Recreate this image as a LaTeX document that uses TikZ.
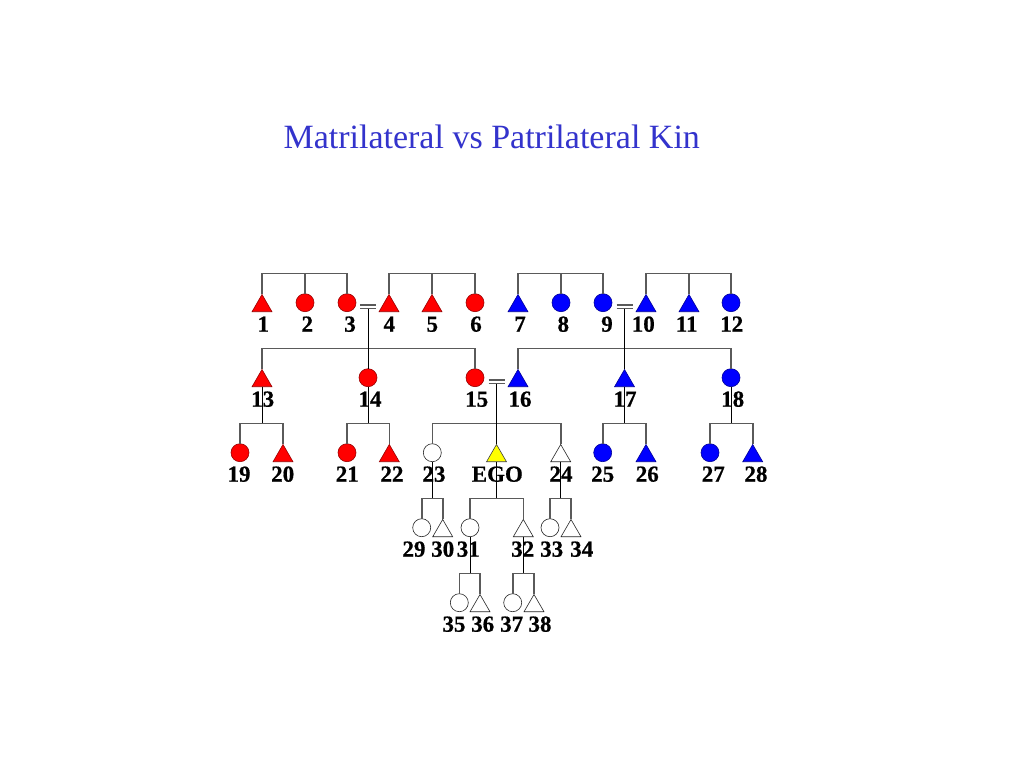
\documentclass[tikz,border=0pt]{standalone}
\usepackage{fontspec}
\setmainfont{Liberation Serif}
\newfontfamily\labfont{Liberation Serif}[BoldFeatures={FakeBold=0.6}]
\usetikzlibrary{shapes.geometric}
\definecolor{titleblue}{RGB}{51,51,204}
\definecolor{kred}{RGB}{255,0,0}
\definecolor{kblue}{RGB}{0,0,255}
\definecolor{kyellow}{RGB}{255,255,0}
\definecolor{conncol}{RGB}{90,90,90}
\tikzset{
 sym/.style={inner sep=0pt, outer sep=0pt, anchor=south, line width=0.6pt},
 fem/.style={sym, circle, minimum size=18pt},
 mal/.style={sym, regular polygon, regular polygon sides=3, minimum size=23pt},
 rd/.style={fill=kred, draw=kred!60!black},
 bl/.style={fill=kblue, draw=kblue!60!black},
 wh/.style={fill=white, draw=black!85},
 ye/.style={fill=kyellow, draw=black!75},
 conn/.style={draw=conncol, line width=1.6pt},
 desc/.style={draw=black, line width=0.9pt},
 eqline/.style={draw=conncol, line width=1.5pt},
 lab/.style={font=\labfont\bfseries\fontsize{23}{23}\selectfont, anchor=base, inner sep=0pt},
 ttl/.style={font=\fontsize{34}{34}\selectfont, text=titleblue, anchor=base, inner sep=0pt}
}
\begin{document}
\begin{tikzpicture}[x=1pt,y=-1pt]
\fill[white] (0,0) rectangle (1024,768);
\useasboundingbox (0,0) rectangle (1024,768);
\node[ttl] (title) at (491.7,148.3) {Matrilateral vs Patrilateral Kin};

% ---- row 1 (base 311.7)
\node[mal,rd] (s1) at (262,311.7) {};
\node[fem,rd] (s2) at (305,311.7) {};
\node[fem,rd] (s3) at (347,311.7) {};
\node[mal,rd] (s4) at (389,311.7) {};
\node[mal,rd] (s5) at (432,311.7) {};
\node[fem,rd] (s6) at (475,311.7) {};
\node[mal,bl] (s7) at (518,311.7) {};
\node[fem,bl] (s8) at (561,311.7) {};
\node[fem,bl] (s9) at (603,311.7) {};
\node[mal,bl] (s10) at (646,311.7) {};
\node[mal,bl] (s11) at (689,311.7) {};
\node[fem,bl] (s12) at (731,311.7) {};
% ---- row 2 (base 386.7)
\node[mal,rd] (s13) at (262,386.7) {};
\node[fem,rd] (s14) at (368,386.7) {};
\node[fem,rd] (s15) at (475,386.7) {};
\node[mal,bl] (s16) at (518,386.7) {};
\node[mal,bl] (s17) at (624.5,386.7) {};
\node[fem,bl] (s18) at (731,386.7) {};
% ---- row 3 (base 461.7)
\node[fem,rd] (s19) at (240,461.7) {};
\node[mal,rd] (s20) at (283,461.7) {};
\node[fem,rd] (s21) at (347,461.7) {};
\node[mal,rd] (s22) at (389.3,461.7) {};
\node[fem,wh] (s23) at (432.3,461.7) {};
\node[mal,ye] (ego) at (496.5,461.7) {};
\node[mal,wh] (s24) at (560.7,461.7) {};
\node[fem,bl] (s25) at (602.7,461.7) {};
\node[mal,bl] (s26) at (646,461.7) {};
\node[fem,bl] (s27) at (710,461.7) {};
\node[mal,bl] (s28) at (752.7,461.7) {};
% ---- row 4 (base 536.7)
\node[fem,wh] (s29) at (421.7,536.7) {};
\node[mal,wh] (s30) at (442.7,536.7) {};
\node[fem,wh] (s31) at (470,536.7) {};
\node[mal,wh] (s32) at (523.3,536.7) {};
\node[fem,wh] (s33) at (550,536.7) {};
\node[mal,wh] (s34) at (571,536.7) {};
% ---- row 5 (base 611.7)
\node[fem,wh] (s35) at (459.3,611.7) {};
\node[mal,wh] (s36) at (480,611.7) {};
\node[fem,wh] (s37) at (512.7,611.7) {};
\node[mal,wh] (s38) at (534,611.7) {};

% ---- labels
\node[lab] (l1) at (263.3,331.7) {1};
\node[lab] (l2) at (307.3,331.7) {2};
\node[lab] (l3) at (350,331.7) {3};
\node[lab] (l4) at (389.3,331.7) {4};
\node[lab] (l5) at (432.3,331.7) {5};
\node[lab] (l6) at (476,331.7) {6};
\node[lab] (l7) at (520,331.7) {7};
\node[lab] (l8) at (563.3,331.7) {8};
\node[lab] (l9) at (607,331.7) {9};
\node[lab] (l10) at (643.3,331.7) {10};
\node[lab] (l11) at (686.7,331.7) {11};
\node[lab] (l12) at (731.7,331.7) {12};
\node[lab] (l13) at (262.7,406.7) {13};
\node[lab] (l14) at (370,406.7) {14};
\node[lab] (l15) at (476.7,406.7) {15};
\node[lab] (l16) at (520,406.7) {16};
\node[lab] (l17) at (625,406.7) {17};
\node[lab] (l18) at (732.7,406.7) {18};
\node[lab] (l19) at (239,481.7) {19};
\node[lab] (l20) at (282.7,481.7) {20};
\node[lab] (l21) at (347.3,481.7) {21};
\node[lab] (l22) at (392,481.7) {22};
\node[lab] (l23) at (434,481.7) {23};
\node[lab] (lego) at (497.3,481.7) {EGO};
\node[lab] (l24) at (561,481.7) {24};
\node[lab] (l25) at (602.7,481.7) {25};
\node[lab] (l26) at (647.3,481.7) {26};
\node[lab] (l27) at (713.3,481.7) {27};
\node[lab] (l28) at (756,481.7) {28};
\node[lab] (l29) at (414,556.7) {29};
\node[lab] (l30) at (442.7,556.7) {30};
\node[lab] (l31) at (468.3,556.7) {31};
\node[lab] (l32) at (522.7,556.7) {32};
\node[lab] (l33) at (551.7,556.7) {33};
\node[lab] (l34) at (581.7,556.7) {34};
\node[lab] (l35) at (454,631.7) {35};
\node[lab] (l36) at (482.7,631.7) {36};
\node[lab] (l37) at (511.7,631.7) {37};
\node[lab] (l38) at (540,631.7) {38};

% ---- bar coordinates
\coordinate (bA1) at (305,273.3);
\coordinate (bA2) at (432,273.3);
\coordinate (bA3) at (561,273.3);
\coordinate (bA4) at (689,273.3);
\coordinate (bB1) at (368,348.3);
\coordinate (bB2) at (624.5,348.3);
\coordinate (bC1) at (262,423.3);
\coordinate (bC2) at (368,423.3);
\coordinate (bC3) at (496.5,423.3);
\coordinate (bC4) at (624.5,423.3);
\coordinate (bC5) at (731,423.3);
\coordinate (bD1) at (432.3,498.3);
\coordinate (bD2) at (496.5,498.3);
\coordinate (bD3) at (560.7,498.3);
\coordinate (bE1) at (470,573.3);
\coordinate (bE2) at (523.3,573.3);
% ---- marriage coordinates
\coordinate (m34l1) at (360,305.2);   \coordinate (m34r1) at (376,305.2);
\coordinate (m34l2) at (360,308.7);   \coordinate (m34r2) at (376,308.7);
\coordinate (m34) at (368,308.7);
\coordinate (m910l1) at (616.5,305.2); \coordinate (m910r1) at (632.5,305.2);
\coordinate (m910l2) at (616.5,308.7); \coordinate (m910r2) at (632.5,308.7);
\coordinate (m910) at (624.5,308.7);
\coordinate (m1516l1) at (488.5,380.2); \coordinate (m1516r1) at (504.5,380.2);
\coordinate (m1516l2) at (488.5,383.7); \coordinate (m1516r2) at (504.5,383.7);
\coordinate (m1516) at (496.5,383.7);

% sibling bars
\draw[conn] (s1.north) |- (bA1) -| (s3.north); \draw[conn] (s2.north) -- (bA1);
\draw[conn] (s4.north) |- (bA2) -| (s6.north); \draw[conn] (s5.north) -- (bA2);
\draw[conn] (s7.north) |- (bA3) -| (s9.north); \draw[conn] (s8.north) -- (bA3);
\draw[conn] (s10.north) |- (bA4) -| (s12.north); \draw[conn] (s11.north) -- (bA4);
\draw[conn] (s13.north) |- (bB1) -| (s15.north);
\draw[conn] (s16.north) |- (bB2) -| (s18.north);
\draw[conn] (s19.north) |- (bC1) -| (s20.north);
\draw[conn] (s21.north) |- (bC2) -| (s22.north);
\draw[conn] (s23.north) |- (bC3) -| (s24.north);
\draw[conn] (s25.north) |- (bC4) -| (s26.north);
\draw[conn] (s27.north) |- (bC5) -| (s28.north);
\draw[conn] (s29.north) |- (bD1) -| (s30.north);
\draw[conn] (s31.north) |- (bD2) -| (s32.north);
\draw[conn] (s33.north) |- (bD3) -| (s34.north);
\draw[conn] (s35.north) |- (bE1) -| (s36.north);
\draw[conn] (s37.north) |- (bE2) -| (s38.north);
% descent lines
\draw[desc] (s13.south) -- (bC1);
\draw[desc] (s14.south) -- (bC2);
\draw[desc] (s17.south) -- (bC4);
\draw[desc] (s18.south) -- (bC5);
\draw[desc] (s23.south) -- (bD1);
\draw[desc] (ego.south) -- (bD2);
\draw[desc] (s24.south) -- (bD3);
\draw[desc] (s31.south) -- (bE1);
\draw[desc] (s32.south) -- (bE2);
% marriages
\draw[eqline] (m34l1) -- (m34r1); \draw[eqline] (m34l2) -- (m34r2);
\draw[desc] (m34) -- (s14.north);
\draw[eqline] (m910l1) -- (m910r1); \draw[eqline] (m910l2) -- (m910r2);
\draw[desc] (m910) -- (s17.north);
\draw[eqline] (m1516l1) -- (m1516r1); \draw[eqline] (m1516l2) -- (m1516r2);
\draw[desc] (m1516) -- (ego.north);
\end{tikzpicture}
\end{document}
